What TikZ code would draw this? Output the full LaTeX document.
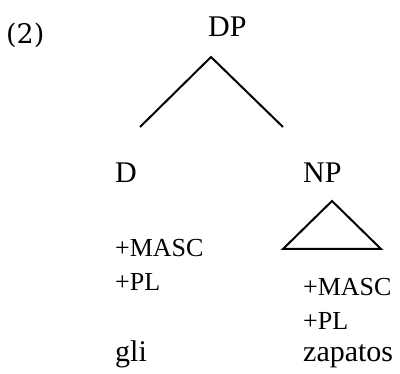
\documentclass[tikz,border=0pt]{standalone}
\usepackage{fontspec}
\setmainfont{Liberation Serif}
\newfontfamily\exnumfont{DejaVu Serif}
\usepackage{tikz}

\begin{document}
\begin{tikzpicture}[x=1pt, y=-1pt,
        cat/.style={font=\fontsize{30}{30}\selectfont, inner sep=0pt, anchor=base west},
        feat/.style={font=\fontsize{26}{26}\selectfont, inner sep=0pt, anchor=base west},
        branch/.style={line width=2pt}]
        \useasboundingbox (0, 0) rectangle (400, 374);

        \node[anchor=base west, inner sep=0pt, font=\exnumfont\fontsize{27}{27}\selectfont] (ex) at (6, 44) {(2)};

        \node[cat] (dp) at (208, 37) {DP};
        \node[cat] (d) at (115, 183) {D};
        \node[cat] (np) at (303, 183) {NP};

        \node[feat] (dmasc) at (115, 257) {+MASC};
        \node[feat] (dpl) at (115, 291) {+PL};
        \node[cat] (gli) at (115, 362) {gli};

        \node[feat] (npmasc) at (303, 296) {+MASC};
        \node[feat] (nppl) at (303, 330) {+PL};
        \node[cat] (zapatos) at (303, 362) {zapatos};

        \coordinate (top) at (211, 57);
        \coordinate (dleg) at (140, 127);
        \coordinate (npleg) at (283, 127);
        \draw[branch] (dleg) -- (top) -- (npleg);

        \coordinate (tritop) at (332, 201);
        \coordinate (trileft) at (283, 249);
        \coordinate (triright) at (381, 249);
        \draw[branch] (tritop) -- (trileft) -- (triright) -- cycle;
    \end{tikzpicture}
\end{document}
